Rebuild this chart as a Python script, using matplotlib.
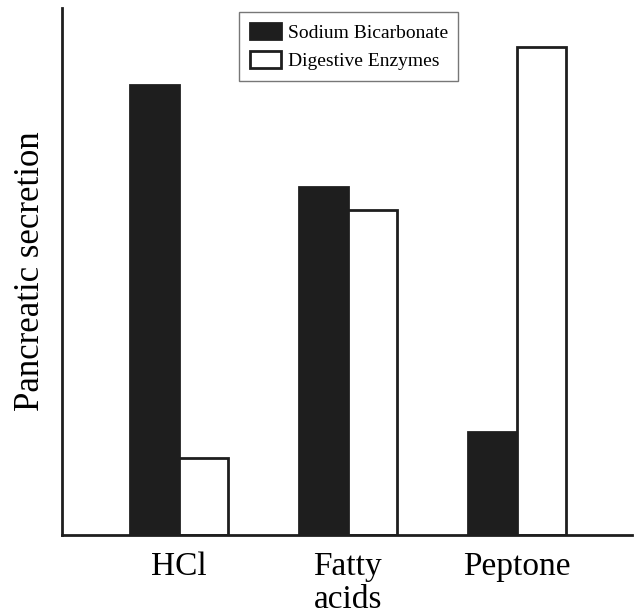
import matplotlib
matplotlib.use("Agg")
from matplotlib import pyplot as plt
import numpy as np

plt.rcParams["font.family"] = ["Liberation Serif", "DejaVu Serif"]

# data
categories = ["HCl", "Fatty\nacids", "Peptone"]
sodium_bicarbonate = [450, 348, 103]
digestive_enzymes = [77, 325, 488]

fig = plt.figure(figsize=(6.34, 6.14), dpi=100)
ax = fig.add_axes([62 / 634, 1 - 535 / 614, 570 / 634, 527 / 614])

x = np.arange(len(categories))
width = 0.29
dark = "#1e1e1e"
ax.bar(x - width / 2, sodium_bicarbonate, width, color=dark, edgecolor=dark,
       linewidth=2, label="Sodium Bicarbonate")
ax.bar(x + width / 2, digestive_enzymes, width, color="white", edgecolor=dark,
       linewidth=2, label="Digestive Enzymes")

ax.set_xlim(-0.69, 2.68)
ax.set_ylim(0, 527)
ax.set_xticks(x)
ax.set_xticklabels(categories, fontsize=24, linespacing=1.08)
ax.tick_params(axis="x", length=0, pad=12)
ax.set_yticks([])
ax.set_ylabel("Pancreatic secretion", fontsize=25, labelpad=11)

for side in ["top", "right"]:
    ax.spines[side].set_visible(False)
for side in ["left", "bottom"]:
    ax.spines[side].set_linewidth(2)
    ax.spines[side].set_color(dark)

leg = ax.legend(loc="upper center", bbox_to_anchor=(0.503, 0.992), fontsize=14,
                frameon=True, fancybox=False, edgecolor="#555555",
                handlelength=1.6, handleheight=0.9, borderpad=0.55, labelspacing=0.5,
                handletextpad=0.35, borderaxespad=0)
leg.get_frame().set_linewidth(1)

fig.savefig("out.png", dpi=100)
